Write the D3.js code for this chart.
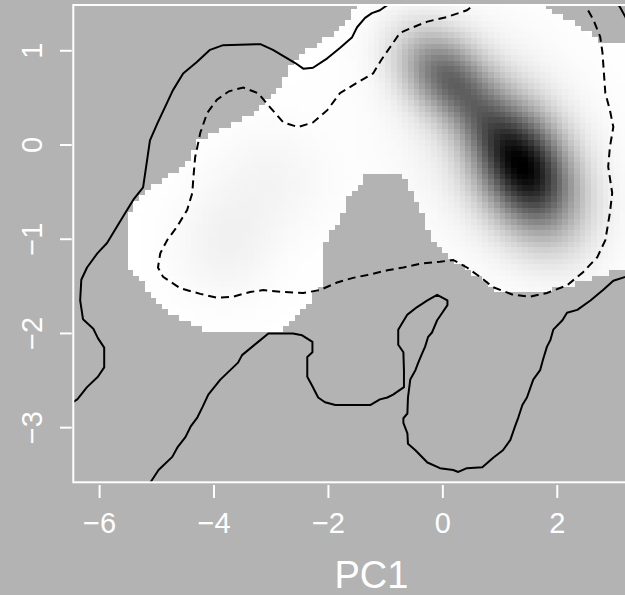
<!DOCTYPE html>
<html><head><meta charset="utf-8">
<script src="https://cdn.jsdelivr.net/npm/d3@7"></script>
<style>html,body{margin:0;padding:0;background:#b3b3b3;} svg{display:block}</style>
</head><body><svg id="c" width="625" height="595"></svg>
<script>
// ---- data ----
const xTicks = [-6, -4, -2, 0, 2];
const yTicks = [-3, -2, -1, 0, 1];
const xLabel = "PC1";

// density components (shading of the raster, darkness 0..1)
const blobX   = [1.42, 0.05, 0.70, 1.00, -3.0, -3.8];
const blobY   = [-0.24, 0.74, 0.25, 0.00, -0.38, -1.06];
const blobSX  = [0.60, 0.55, 0.40, 1.20, 0.7, 0.6];
const blobSY  = [0.46, 0.33, 0.30, 0.80, 0.4, 0.4];
const blobRho = [-0.35, -0.35, -0.5, -0.3, 0, 0];
const blobAmp = [0.92, 0.52, 0.12, 0.08, 0.04, 0.05];

// region where the density exceeds the display threshold
const maskRegion = [
 [-1.50,1.70],[-1.50,1.49],[-1.62,1.35],[-1.74,1.27],[-1.85,1.20],[-2.01,1.14],[-2.15,1.08],
 [-2.32,1.01],[-2.49,0.96],[-2.62,0.87],[-2.72,0.76],[-2.81,0.67],[-2.90,0.58],[-2.98,0.51],
 [-3.19,0.37],[-3.42,0.29],[-3.67,0.23],[-3.89,0.16],[-4.12,0.08],[-4.29,0.02],[-4.38,-0.13],
 [-4.54,-0.23],[-4.72,-0.30],[-4.89,-0.37],[-5.12,-0.45],[-5.29,-0.55],[-5.41,-0.66],[-5.47,-0.74],
 [-5.55,-0.90],[-5.55,-1.09],[-5.47,-1.17],[-5.47,-1.31],[-5.34,-1.41],[-5.26,-1.46],[-5.17,-1.54],
 [-5.06,-1.59],[-4.98,-1.65],[-4.85,-1.72],[-4.77,-1.77],[-4.56,-1.83],[-4.47,-1.88],[-4.28,-1.93],
 [-4.07,-1.97],[-2.81,-1.97],[-2.72,-1.88],[-2.49,-1.78],[-2.41,-1.72],[-2.32,-1.65],[-2.23,-1.54],
 [-2.11,-1.46],[-2.11,-1.11],[-2.02,-0.98],[-1.92,-0.87],[-1.74,-0.72],[-1.62,-0.51],[-1.45,-0.40],
 [-1.41,-0.30],[-0.75,-0.30],[-0.62,-0.40],[-0.53,-0.51],[-0.45,-0.62],[-0.34,-0.76],[-0.26,-0.87],
 [-0.17,-0.98],[-0.05,-1.08],[0.08,-1.15],[0.18,-1.22],[0.30,-1.27],[0.56,-1.36],[0.86,-1.49],
 [1.05,-1.58],[1.79,-1.58],[2.00,-1.51],[2.40,-1.45],[2.75,-1.39],[3.01,-1.33],[4.20,-1.27],
 [4.20,1.08],[2.75,1.08],[2.63,1.15],[2.40,1.22],[2.17,1.33],[1.93,1.40],[1.70,1.49],[1.70,1.70]
];

// contour lines (data coordinates)
const contourSolidA = [
 [-6.55,-2.76],[-6.39,-2.70],[-6.22,-2.57],[-6.03,-2.46],[-5.92,-2.36],[-5.92,-2.15],[-6.03,-2.05],
 [-6.11,-1.95],[-6.29,-1.85],[-6.34,-1.65],[-6.32,-1.43],[-6.22,-1.30],[-6.04,-1.15],[-5.87,-1.04],
 [-5.73,-0.90],[-5.55,-0.72],[-5.41,-0.58],[-5.24,-0.45],[-5.17,-0.16],[-5.12,0.05],[-4.99,0.23],
 [-4.82,0.45],[-4.72,0.58],[-4.54,0.76],[-4.30,0.88],[-4.07,1.01],[-3.84,1.06],[-3.19,1.07],
 [-2.97,1.01],[-2.72,0.92],[-2.58,0.87],[-2.44,0.81],[-2.27,0.82],[-2.02,0.92],[-1.80,1.03],
 [-1.59,1.14],[-1.50,1.25],[-1.36,1.35],[-1.24,1.40],[-1.10,1.43],[-0.96,1.49],[-0.88,1.56]
];
const contourSolidB = [
 [3.31,-1.35],[3.19,-1.40],[2.98,-1.44],[2.80,-1.54],[2.58,-1.65],[2.35,-1.75],[2.17,-1.78],
 [2.09,-1.86],[1.93,-1.96],[1.88,-2.07],[1.82,-2.14],[1.75,-2.28],[1.70,-2.39],[1.58,-2.49],
 [1.47,-2.68],[1.39,-2.76],[1.32,-2.89],[1.26,-2.99],[1.18,-3.13],[1.05,-3.24],[0.88,-3.32],
 [0.69,-3.42],[0.42,-3.43],[0.27,-3.47],[0.18,-3.45],[-0.05,-3.43],[-0.27,-3.37],[-0.48,-3.24],
 [-0.61,-3.17],[-0.62,-3.06],[-0.69,-2.95],[-0.69,-2.90],[-0.62,-2.85],[-0.61,-2.68],[-0.57,-2.49],
 [-0.48,-2.39],[-0.43,-2.31],[-0.36,-2.21],[-0.31,-2.14],[-0.26,-2.04],[-0.19,-1.99],[-0.10,-1.86],
 [-0.01,-1.78],[0.08,-1.70],[0.08,-1.65],[-0.10,-1.59],[-0.27,-1.65],[-0.45,-1.72],[-0.62,-1.80],
 [-0.71,-1.89],[-0.78,-1.96],[-0.78,-2.12],[-0.69,-2.20],[-0.68,-2.39],[-0.68,-2.57],[-0.87,-2.65],
 [-0.97,-2.68],[-1.10,-2.70],[-1.27,-2.76],[-1.88,-2.76],[-2.06,-2.73],[-2.18,-2.68],[-2.28,-2.56],
 [-2.37,-2.46],[-2.37,-2.25],[-2.28,-2.20],[-2.28,-2.09],[-2.46,-2.02],[-2.62,-2.00],[-3.05,-2.00],
 [-3.25,-2.10],[-3.51,-2.23],[-3.58,-2.31],[-3.89,-2.49],[-4.10,-2.65],[-4.20,-2.78],[-4.29,-2.89],
 [-4.41,-2.99],[-4.50,-3.10],[-4.64,-3.21],[-4.73,-3.31],[-4.97,-3.45],[-5.11,-3.58],[-5.20,-3.64]
];
const contourSolidC = [[3.01,1.54],[3.10,1.46],[3.19,1.36],[3.28,1.25]];
const contourDashed = [
 [2.48,1.56],[2.52,1.45],[2.63,1.33],[2.75,1.15],[2.79,0.98],[2.84,0.55],[2.92,0.37],[2.98,0.19],
 [2.92,-0.02],[2.89,-0.23],[2.96,-0.51],[2.92,-0.72],[2.84,-1.01],[2.70,-1.19],[2.45,-1.35],
 [2.17,-1.49],[1.82,-1.57],[1.53,-1.61],[1.23,-1.59],[0.88,-1.51],[0.65,-1.40],[0.42,-1.30],
 [0.18,-1.22],[-0.05,-1.24],[-0.40,-1.26],[-0.69,-1.30],[-0.97,-1.33],[-1.32,-1.38],[-1.57,-1.41],
 [-1.85,-1.46],[-2.15,-1.54],[-2.44,-1.57],[-2.79,-1.56],[-3.14,-1.54],[-3.37,-1.56],[-3.67,-1.61],
 [-3.95,-1.62],[-4.24,-1.58],[-4.59,-1.52],[-4.89,-1.40],[-4.98,-1.30],[-4.94,-1.15],[-4.82,-1.01],
 [-4.65,-0.87],[-4.47,-0.69],[-4.38,-0.51],[-4.36,-0.34],[-4.33,-0.13],[-4.24,0.13],[-4.12,0.34],
 [-3.95,0.48],[-3.74,0.57],[-3.49,0.61],[-3.23,0.55],[-3.02,0.40],[-2.79,0.24],[-2.53,0.19],
 [-2.27,0.24],[-2.02,0.37],[-1.80,0.55],[-1.50,0.66],[-1.22,0.76],[-1.08,0.90],[-0.92,1.04],
 [-0.75,1.19],[-0.52,1.25],[-0.27,1.31],[0.08,1.36],[0.42,1.43],[0.70,1.56]
];

// ---- layout ----
const W = 625, H = 595;
const svg = d3.select("#c");
const x = d3.scaleLinear().domain([-6.46, 3.96]).range([73.3, 669.4]);
const y = d3.scaleLinear().domain([-3.58, 1.486]).range([482.3, 5]);
const bg = "#b3b3b3";
const font = "Liberation Sans, Arial, Helvetica, sans-serif";

svg.append("rect").attr("width", W).attr("height", H).attr("fill", bg);

svg.append("clipPath").attr("id", "plotclip").append("rect")
  .attr("x", x.range()[0]).attr("y", y.range()[1])
  .attr("width", x.range()[1] - x.range()[0]).attr("height", y.range()[0] - y.range()[1]);

const plot = svg.append("g").attr("clip-path", "url(#plotclip)");

// density field
function darkness(px, py) {
  let s = 0;
  for (let i = 0; i < blobX.length; i++) {
    const dx = (px - blobX[i]) / blobSX[i], dy = (py - blobY[i]) / blobSY[i], r = blobRho[i];
    const q = (dx*dx + dy*dy - 2*r*dx*dy) / (1 - r*r);
    s += blobAmp[i] * Math.exp(-0.5 * q);
  }
  return Math.min(1, s);
}
const shade = d3.scaleLinear().domain([0, 1]).range(["#ffffff", "#000000"]).clamp(true);

const cellW = 0.1, cellH = 0.06;
const cells = [];
for (let gx = -6.5; gx < 4.0; gx += cellW) {
  for (let gy = -3.6; gy < 1.6; gy += cellH) {
    const cx = gx + cellW / 2, cy = gy + cellH / 2;
    if (d3.polygonContains(maskRegion, [cx, cy])) cells.push({x0: gx, y0: gy, v: darkness(cx, cy)});
  }
}
plot.append("g").attr("shape-rendering", "crispEdges")
  .selectAll("rect").data(cells).join("rect")
  .attr("x", d => Math.floor(x(d.x0)))
  .attr("y", d => Math.floor(y(d.y0 + cellH)))
  .attr("width", d => Math.ceil(x(d.x0 + cellW)) - Math.floor(x(d.x0)))
  .attr("height", d => Math.ceil(y(d.y0)) - Math.floor(y(d.y0 + cellH)))
  .attr("fill", d => shade(d.v));

// contours
const line = d3.line().x(d => x(d[0])).y(d => y(d[1]));
[contourSolidA, contourSolidB, contourSolidC].forEach(c => {
  plot.append("path").attr("d", line(c)).attr("fill", "none")
    .attr("stroke", "#000").attr("stroke-width", 2).attr("stroke-linejoin", "round");
});
plot.append("path").attr("d", line(contourDashed)).attr("fill", "none")
  .attr("stroke", "#000").attr("stroke-width", 2).attr("stroke-dasharray", "8,5");

// box
svg.append("rect")
  .attr("x", x.range()[0]).attr("y", y.range()[1])
  .attr("width", x.range()[1] - x.range()[0]).attr("height", y.range()[0] - y.range()[1])
  .attr("fill", "none").attr("stroke", "#fff").attr("stroke-width", 2);

// x axis
const fmt = v => (v < 0 ? "\u2212" + Math.abs(v) : String(v));
const xAx = svg.append("g");
xAx.selectAll("line").data(xTicks).join("line")
  .attr("x1", d => x(d)).attr("x2", d => x(d)).attr("y1", 485).attr("y2", 498)
  .attr("stroke", "#fff").attr("stroke-width", 2);
xAx.selectAll("text").data(xTicks).join("text")
  .attr("x", d => x(d)).attr("y", 533).attr("text-anchor", "middle")
  .attr("font-family", font).attr("font-size", 29)
  .attr("fill", "#fff").text(fmt);

// y axis
const yAx = svg.append("g");
yAx.selectAll("line").data(yTicks).join("line")
  .attr("x1", 60).attr("x2", 71.7).attr("y1", d => y(d)).attr("y2", d => y(d))
  .attr("stroke", "#fff").attr("stroke-width", 2);
yAx.selectAll("text").data(yTicks).join("text")
  .attr("transform", d => `translate(42,${y(d)}) rotate(-90)`).attr("text-anchor", "middle")
  .attr("font-family", font).attr("font-size", 29)
  .attr("fill", "#fff").text(fmt);

// x label
svg.append("text").attr("x", (x.range()[0] + x.range()[1]) / 2).attr("y", 588)
  .attr("text-anchor", "middle")
  .attr("font-family", font).attr("font-size", 38)
  .attr("fill", "#fff").text(xLabel);
</script></body></html>
